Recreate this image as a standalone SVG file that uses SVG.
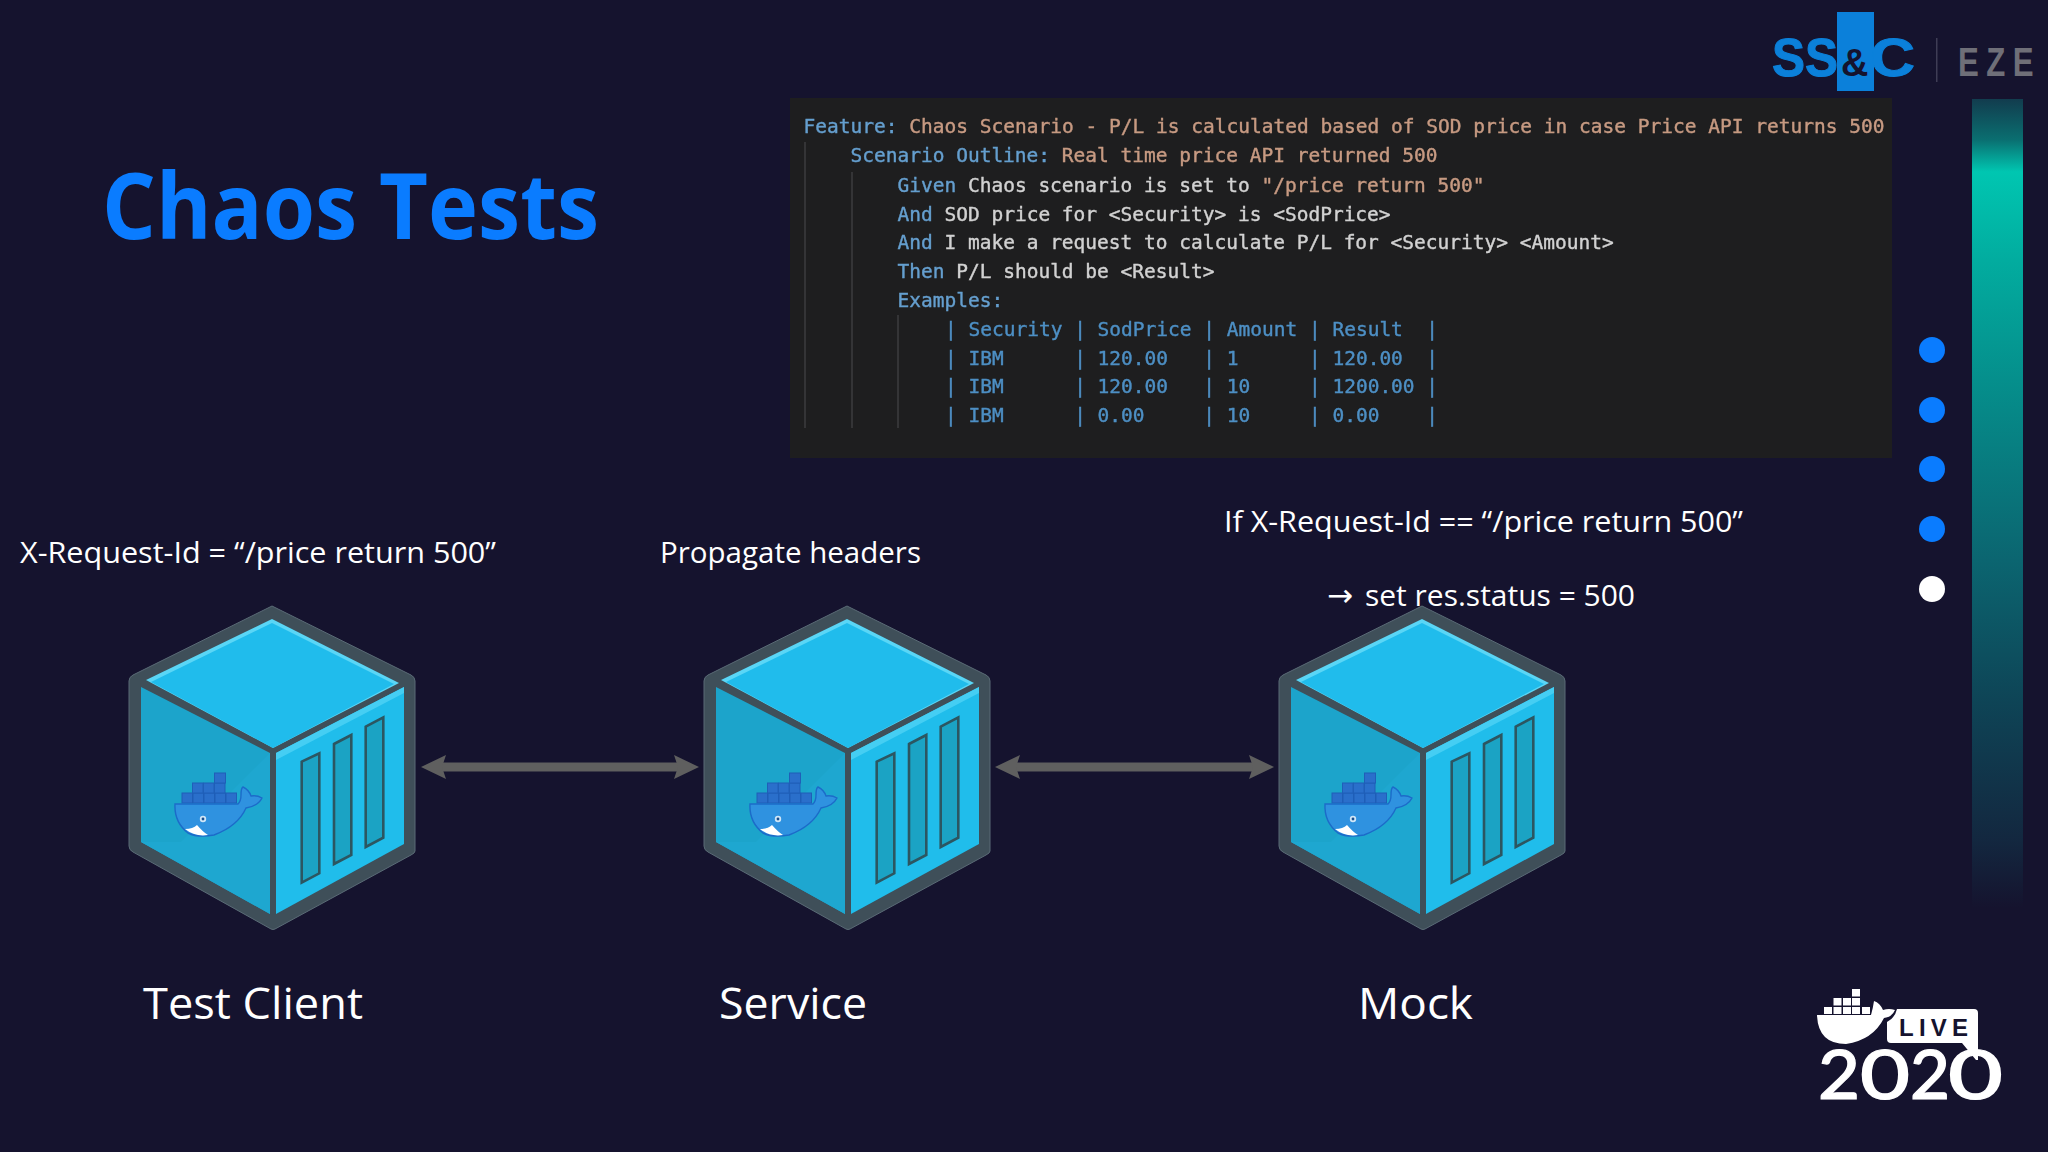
<svg xmlns="http://www.w3.org/2000/svg" width="2048" height="1152" viewBox="0 0 2048 1152">
<style>
.lbl{font-family:"Open Sans","Liberation Sans",sans-serif;fill:#fff;font-size:29px}
.name{font-family:"Open Sans","Liberation Sans",sans-serif;fill:#fff;font-size:44px}
.code{font-family:"DejaVu Sans Mono","Liberation Mono",monospace;font-size:19.5px;white-space:pre;fill:#d2d2d2;stroke:#d2d2d2;stroke-width:.4}
.k{fill:#659fcf;stroke:#659fcf}.s{fill:#c79a82;stroke:#c79a82}.t{fill:#4d8fc4;stroke:#4d8fc4}
.guide{stroke:#343436;stroke-width:2}
.frame{fill:#3f4f59}
.win{fill:#1ba3c4;stroke:#2c5661;stroke-width:2.6}
.crate{fill:#2a6fcb;stroke:#1f5fb8;stroke-width:1}
.wc{fill:#fff}
.conn{stroke:#5f5f5f;stroke-width:9;fill:none;marker-start:url(#head);marker-end:url(#head)}
.dot{fill:#0a7cff}
</style>
<defs>
<linearGradient id="bar" x1="0" y1="0" x2="0" y2="1">
<stop offset="0" stop-color="#123c4e"/><stop offset="0.05" stop-color="#0a6e70"/><stop offset="0.09" stop-color="#00c6b1"/><stop offset="0.2" stop-color="#02ac9f"/><stop offset="0.347" stop-color="#058f8c"/><stop offset="0.57" stop-color="#0b6570"/><stop offset="0.745" stop-color="#0e4456"/><stop offset="0.918" stop-color="#13273f"/><stop offset="1" stop-color="#15132e"/>
</linearGradient>
<filter id="soft" x="-2%" y="-5%" width="104%" height="110%"><feGaussianBlur stdDeviation="0.7"/></filter>
<marker id="head" markerUnits="userSpaceOnUse" viewBox="0 -13 25 26" markerWidth="25" markerHeight="26" refX="14" refY="0" orient="auto-start-reverse">
<path d="M25,0 L0,-12 L4,0 L0,12 Z" fill="#5f5f5f"/>
</marker>
<g id="cube">
<path class="frame" d="M272,606 L411,675 Q415,677 415,681 L415,851 Q415,853 411,855 L275,929 Q273,930 271,929 L133,852 Q129,850 129,846 L129,681 Q129,677 133,675 Z" stroke="#5a6b76" stroke-width="1"/>
<polygon points="146,680 272,619 399,683 273,748" fill="#5ad6f6"/>
<polygon points="151,682 272,623 394,684 273,748" fill="#20bcec"/>
<polygon points="141,687 270,753 270,914 141,842" fill="#1ca4cb"/>
<polygon points="141,842 270,914 270,753 181,842" fill="#1ea7d0"/>
<polygon points="276,753 404,687 404,844 276,914" fill="#20bdeb"/>
<polygon points="276,753 404,687 404,693 276,760" fill="#45cef3"/>
<polygon class="win" points="301.7,761.7 319.3,753.3 319.3,873.3 301.7,882.7"/>
<polygon class="win" points="334,744 351.3,735 351.3,855 334,864"/>
<polygon class="win" points="365.7,726.7 383.3,717.3 383.3,837.7 365.7,847"/>
<rect class="crate" x="182" y="793" width="10.500" height="10"/><rect class="crate" x="193" y="793" width="10.500" height="10"/><rect class="crate" x="204" y="793" width="10.500" height="10"/><rect class="crate" x="215" y="793" width="10.500" height="10"/><rect class="crate" x="226" y="793" width="10.500" height="10"/>
<rect class="crate" x="192.500" y="783" width="10.500" height="10"/><rect class="crate" x="203.500" y="783" width="10.500" height="10"/><rect class="crate" x="214.500" y="783" width="10.500" height="10"/>
<rect class="crate" x="214.500" y="773" width="11" height="10"/>
<path d="M175,804 L238,804 Q241,801 241,795 Q241,788 243,787 Q249,790 251,796 Q257,795 262,798 Q258,806 246,808 Q238,826 214,835 Q198,838 188,833 Q174,822 175,804 Z" fill="#2f92e0" stroke="#1c6bc9" stroke-width="1.4"/>
<path d="M185,829 Q193,829 197,825 Q203,832 208,835 Q195,837 185,829 Z" class="wc"/>
<circle cx="203" cy="819" r="3.200" fill="#cfe6f7"/><circle cx="203" cy="819" r="1.400" fill="#1a4f8f"/>
</g>
</defs>
<rect width="2048" height="1152" fill="#15132e"/>
<text x="102" y="239" font-family="'Open Sans','Liberation Sans',sans-serif" font-weight="700" font-size="92" fill="#0a7cff" textLength="497" lengthAdjust="spacingAndGlyphs">Chaos Tests</text>

<g id="code-panel">
<rect x="790" y="98" width="1102" height="360" fill="#1e1e1f"/>
<line class="guide" x1="805" y1="142" x2="805" y2="428"/>
<line class="guide" x1="852" y1="172" x2="852" y2="428"/>
<line class="guide" x1="898" y1="315" x2="898" y2="428"/>
<g filter="url(#soft)">
<text class="code" x="803.5" y="133" textLength="1081" xml:space="preserve"><tspan class="k">Feature:</tspan> <tspan class="s">Chaos Scenario - P/L is calculated based of SOD price in case Price API returns 500</tspan></text>
<text class="code" x="850.5" y="162" xml:space="preserve"><tspan class="k">Scenario Outline:</tspan> <tspan class="s">Real time price API returned 500</tspan></text>
<text class="code" x="897.5" y="192" xml:space="preserve"><tspan class="k">Given</tspan> Chaos scenario is set to <tspan class="s">"/price return 500"</tspan></text>
<text class="code" x="897.5" y="221" xml:space="preserve"><tspan class="k">And</tspan> SOD price for &lt;Security&gt; is &lt;SodPrice&gt;</text>
<text class="code" x="897.5" y="249" xml:space="preserve"><tspan class="k">And</tspan> I make a request to calculate P/L for &lt;Security&gt; &lt;Amount&gt;</text>
<text class="code" x="897.5" y="278" xml:space="preserve"><tspan class="k">Then</tspan> P/L should be &lt;Result&gt;</text>
<text class="code k" x="897.5" y="307">Examples:</text>
<text class="code t" x="945" y="336" xml:space="preserve">| Security | SodPrice | Amount | Result  |</text>
<text class="code t" x="945" y="365" xml:space="preserve">| IBM      | 120.00   | 1      | 120.00  |</text>
<text class="code t" x="945" y="393" xml:space="preserve">| IBM      | 120.00   | 10     | 1200.00 |</text>
<text class="code t" x="945" y="422" xml:space="preserve">| IBM      | 0.00     | 10     | 0.00    |</text>
</g>
</g>

<g id="connectors">
<line class="conn" x1="432" y1="767" x2="688" y2="767"/>
<line class="conn" x1="1006" y1="767" x2="1263" y2="767"/>
</g>

<g id="test-client">
<use href="#cube"/>
<text class="lbl" x="20" y="563" textLength="476" lengthAdjust="spacingAndGlyphs">X-Request-Id = “/price return 500”</text>
<text class="name" x="143" y="1019" textLength="220" lengthAdjust="spacingAndGlyphs">Test Client</text>
</g>
<g id="service">
<use href="#cube" x="575"/>
<text class="lbl" x="660" y="563" textLength="261" lengthAdjust="spacingAndGlyphs">Propagate headers</text>
<text class="name" x="719" y="1019" textLength="148" lengthAdjust="spacingAndGlyphs">Service</text>
</g>
<g id="mock">
<use href="#cube" x="1150"/>
<text class="lbl" x="1224" y="532" textLength="519" lengthAdjust="spacingAndGlyphs">If X-Request-Id == “/price return 500”</text>
<text class="lbl" y="606"><tspan x="1327" font-family="'DejaVu Sans',sans-serif" font-size="31">→</tspan> <tspan x="1365" textLength="270" lengthAdjust="spacingAndGlyphs">set res.status = 500</tspan></text>
<text class="name" x="1358" y="1019" textLength="115" lengthAdjust="spacingAndGlyphs">Mock</text>
</g>

<g id="progress">
<rect x="1972" y="99" width="51" height="809" fill="url(#bar)"/>
<circle class="dot" cx="1932" cy="350" r="13"/>
<circle class="dot" cx="1932" cy="410" r="13"/>
<circle class="dot" cx="1932" cy="469" r="13"/>
<circle class="dot" cx="1932" cy="529" r="13"/>
<circle cx="1932" cy="589" r="13" fill="#fff"/>
</g>

<g id="logo-ssc">
<rect x="1837" y="12" width="37" height="79" fill="#0b80da"/>
<text y="76" font-family="'Liberation Sans',Arial,sans-serif" font-weight="700" font-size="53" fill="#0b80da" stroke="#0b80da" stroke-width="1"><tspan x="1772" textLength="66" lengthAdjust="spacingAndGlyphs">SS</tspan><tspan x="1841" font-size="38" fill="#15132e" stroke="none">&amp;</tspan><tspan x="1870" textLength="45" lengthAdjust="spacingAndGlyphs">C</tspan></text>
<rect x="1936" y="38" width="1.500" height="44" fill="#3e3d55"/>
<text transform="translate(1958,76) scale(.78,1)" font-family="'Liberation Sans',Arial,sans-serif" font-weight="700" font-size="40" fill="#6f6f78" letter-spacing="9.6">EZE</text>
</g>

<g id="logo-live">
<g fill="#fff">
<rect x="1824" y="1007" width="8" height="7"/><rect x="1833.500" y="1007" width="8" height="7"/><rect x="1843" y="1007" width="8" height="7"/><rect x="1852" y="1007" width="8" height="7"/><rect x="1862" y="1007" width="8" height="7"/>
<rect x="1833.500" y="998" width="8" height="7.500"/><rect x="1843" y="998" width="8" height="7.500"/><rect x="1852" y="998" width="8" height="7.500"/>
<rect x="1852" y="989" width="8" height="7.500"/>
<path d="M1817,1015 L1871,1015 Q1873,1008 1874,1001 Q1880,1003 1883,1010 Q1889,1008 1895,1010 Q1892,1017 1884,1018 Q1873,1040 1846,1044 Q1818,1044 1817,1015 Z"/>
<path d="M1893,1009 L1974,1009 Q1978,1009 1978,1013 L1978,1060 L1976,1060 L1962,1043 L1891,1043 Q1887,1043 1887,1039 L1887,1022 Q1895,1018 1897,1009 Z"/>
</g>
<text x="1899" y="1036" font-family="'Liberation Sans',Arial,sans-serif" font-weight="700" font-size="24" fill="#15132e" textLength="69">LIVE</text>
<text y="1099" font-family="Lato,'Open Sans',sans-serif" font-weight="500" font-size="68" fill="#fff" stroke="#fff" stroke-width="1.2"><tspan x="1818" textLength="42" lengthAdjust="spacingAndGlyphs">2</tspan><tspan x="1860" textLength="50" lengthAdjust="spacingAndGlyphs">0</tspan><tspan x="1910" textLength="40" lengthAdjust="spacingAndGlyphs">2</tspan><tspan x="1948" textLength="55" lengthAdjust="spacingAndGlyphs">0</tspan></text>
</g>
</svg>
